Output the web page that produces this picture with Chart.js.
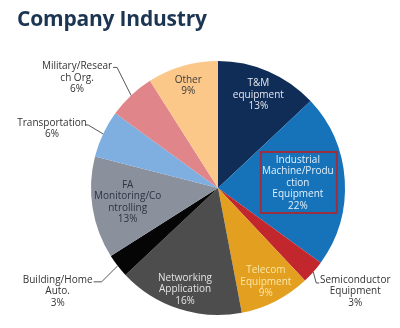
<!DOCTYPE html>
<html>
<head>
<meta charset="utf-8">
<script src="https://cdn.jsdelivr.net/npm/chart.js@4"></script>
<style>
  body { margin: 0; background: #fff; }
  #wrap { position: relative; width: 400px; height: 328px; }
  #title {
    position: absolute; left: 17px; top: 4px;
    font: bold 21px "Open Sans", sans-serif; color: #1c3553;
    letter-spacing: -0.2px;
  }
  canvas { position: absolute; left: 0; top: 0; }
</style>
</head>
<body>
<div id="wrap">
  <canvas id="industry" width="400" height="328"></canvas>
  <div id="title">Company Industry</div>
</div>
<script>
// share of companies by industry, clockwise from 12 o'clock
const categories = [
  'T&M equipment', 'Industrial Machine/Production Equipment', 'Semiconductor Equipment',
  'Telecom Equipment', 'Networking Application', 'Building/Home Auto.',
  'FA Monitoring/Controlling', 'Transportation', 'Military/Research Org.', 'Other'
];
const shares = [13, 22, 3, 9, 16, 3, 13, 6, 6, 9];
// wrapped label lines (percent is appended from shares)
const labelLines = [
  ['T&M', 'equipment'],
  ['Industrial', 'Machine/Produ', 'ction', 'Equipment'],
  ['Semiconductor', 'Equipment'],
  ['Telecom', 'Equipment'],
  ['Networking', 'Application'],
  ['Building/Home', 'Auto.'],
  ['FA', 'Monitoring/Co', 'ntrolling'],
  ['Transportation'],
  ['Military/Resear', 'ch Org.'],
  ['Other']
];

const sliceColors = ['#0f2d57', '#1673b9', '#c1272d', '#e3a020', '#4d4d4d',
                     '#050505', '#8a909c', '#7faee0', '#e0868a', '#fcc88a'];
const textColors  = ['#e4e8f0', '#e2f0fc', '#333', '#fbe6a8', '#e4e4e4',
                     '#333', '#2e3340', '#333', '#333', '#3a3a3a'];

// inside labels: radial position as fraction of radius
const inside = { 0: 0.80, 1: 0.63, 3: 0.83, 4: 0.84, 6: 0.72, 9: 0.84 };
// outside labels: offsets from the slice's outer edge point
const outside = {
  2: { elbow: [3, 11],   end: [6, 11],   text: [42, 8] },
  5: { elbow: [-16, 16], end: [-24, 16], text: [-60, 14] },
  7: { elbow: [-15, -9], end: [-18, -9], text: [-51, -11] },
  8: { elbow: [-14, -28], end: [-18, -28], text: [-54, -29] }
};

const lineH = 11.5;

const labelPlugin = {
  id: 'sliceLabels',
  afterDatasetsDraw(chart) {
    const ctx = chart.ctx;
    const arcs = chart.getDatasetMeta(0).data;
    ctx.save();
    ctx.font = '10px "Open Sans", sans-serif';
    ctx.textAlign = 'center';
    ctx.textBaseline = 'middle';
    arcs.forEach((arc, i) => {
      const p = arc.getProps(['x', 'y', 'startAngle', 'endAngle', 'outerRadius'], true);
      const mid = (p.startAngle + p.endAngle) / 2;
      const lines = labelLines[i].concat([shares[i] + '%']);
      let cx, cy;
      if (inside[i] !== undefined) {
        const r = p.outerRadius * inside[i];
        cx = p.x + Math.cos(mid) * r;
        cy = p.y + Math.sin(mid) * r - (lines.length - 1) * lineH / 2;
        ctx.fillStyle = textColors[i];
      } else {
        const o = outside[i];
        const ex = p.x + Math.cos(mid) * p.outerRadius;
        const ey = p.y + Math.sin(mid) * p.outerRadius;
        ctx.strokeStyle = '#555';
        ctx.lineWidth = 1;
        ctx.beginPath();
        ctx.moveTo(ex, ey);
        ctx.lineTo(ex + o.elbow[0], ey + o.elbow[1]);
        ctx.lineTo(ex + o.end[0], ey + o.end[1]);
        ctx.stroke();
        cx = ex + o.text[0];
        cy = ey + o.text[1];
        ctx.fillStyle = textColors[i];
      }
      lines.forEach((t, k) => ctx.fillText(t, cx, cy + k * lineH));

      // highlight box around the largest segment
      if (i === 1) {
        ctx.strokeStyle = '#9b2f3f';
        ctx.lineWidth = 2;
        ctx.strokeRect(cx - 37, cy - 8, 76, 61);
      }
    });
    ctx.restore();
  }
};

new Chart(
  document.getElementById('industry'),
  {
    type: 'pie',
    data: {
      labels: categories,
      datasets: [{
        data: shares,
        backgroundColor: sliceColors,
        borderWidth: 0
      }]
    },
    options: {
      responsive: false,
      animation: false,
      layout: { padding: { left: 91, right: 55, top: 61, bottom: 13 } },
      plugins: {
        legend: { display: false },
        tooltip: { enabled: false }
      }
    },
    plugins: [labelPlugin]
  }
);
</script>
</body>
</html>
